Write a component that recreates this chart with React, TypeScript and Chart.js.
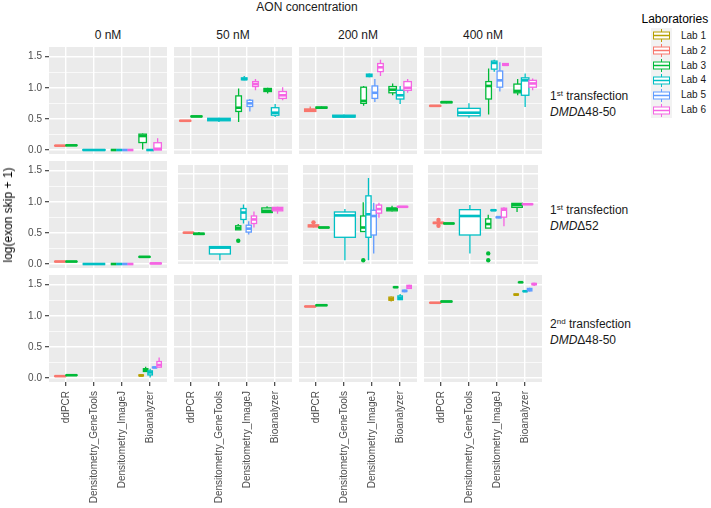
import React, { useEffect, useRef } from 'react';
import { Chart, registerables } from 'chart.js';

Chart.register(...registerables);

const FONT = '"Liberation Sans", Arial, Helvetica, sans-serif';

// ---------- data ----------
const categories = ['ddPCR', 'Densitometry_GeneTools', 'Densitometry_ImageJ', 'Bioanalyzer'];
const concentrations = ['0 nM', '50 nM', '200 nM', '400 nM'];
const labs = ['Lab 1', 'Lab 2', 'Lab 3', 'Lab 4', 'Lab 5', 'Lab 6'];
const labColors = ['#B79F00', '#F8766D', '#00BA38', '#00BFC4', '#619CFF', '#F564E3'];
const yMajorTicks = [0, 0.5, 1.0, 1.5];
const yMinorTicks = [0.25, 0.75, 1.25];
const rowNumbers = ['1', '1', '2'];
const rowSuffixes = ['st', 'st', 'nd'];
const rowDeletions = ['Δ48-50', 'Δ52', 'Δ48-50'];

// box: [category index, lab number, lower whisker, q1, median, q3, upper whisker]
type Box = [number, number, number, number, number, number, number];
// outlier: [category index, lab number, value]
type Out = [number, number, number];

const row1_0nM: Box[] = [
  [0, 2, 0.065, 0.068, 0.07, 0.072, 0.075],
  [0, 3, 0.07, 0.073, 0.075, 0.078, 0.08],
  [1, 4, 0, 0, 0, 0.003, 0.005],
  [2, 3, 0, 0, 0, 0, 0],
  [2, 4, 0, 0, 0, 0, 0],
  [2, 5, 0, 0, 0, 0, 0],
  [2, 6, 0, 0, 0, 0, 0],
  [3, 3, 0.01, 0.12, 0.225, 0.255, 0.265],
  [3, 4, 0, 0, 0, 0, 0],
  [3, 6, 0, 0, 0.02, 0.117, 0.19],
];
const row1_50nM: Box[] = [
  [0, 2, 0.46, 0.465, 0.47, 0.475, 0.48],
  [0, 3, 0.53, 0.535, 0.54, 0.545, 0.55],
  [1, 4, 0.45, 0.47, 0.49, 0.51, 0.52],
  [2, 3, 0.45, 0.62, 0.68, 0.87, 0.99],
  [2, 4, 1.12, 1.13, 1.14, 1.16, 1.19],
  [2, 5, 0.62, 0.7, 0.75, 0.8, 0.82],
  [2, 6, 0.96, 1.02, 1.06, 1.1, 1.14],
  [3, 3, 0.91, 0.94, 0.96, 0.99, 1.0],
  [3, 4, 0.53, 0.56, 0.6, 0.68, 0.74],
  [3, 6, 0.8, 0.83, 0.88, 0.94, 1.01],
];
const row1_200nM: Box[] = [
  [0, 2, 0.62, 0.62, 0.64, 0.66, 0.7],
  [0, 3, 0.67, 0.675, 0.68, 0.69, 0.7],
  [1, 4, 0.52, 0.53, 0.54, 0.56, 0.57],
  [2, 3, 0.71, 0.75, 0.79, 1.01, 1.03],
  [2, 4, 1.17, 1.18, 1.2, 1.22, 1.23],
  [2, 5, 0.77, 0.83, 0.92, 1.03, 1.14],
  [2, 6, 1.19, 1.26, 1.33, 1.39, 1.45],
  [3, 3, 0.88, 0.92, 0.97, 1.02, 1.07],
  [3, 4, 0.74, 0.82, 0.88, 0.96, 1.03],
  [3, 6, 0.92, 0.96, 1.0, 1.1, 1.14],
];
const row1_400nM: Box[] = [
  [0, 2, 0.7, 0.705, 0.71, 0.715, 0.72],
  [0, 3, 0.75, 0.76, 0.77, 0.775, 0.78],
  [1, 4, 0.52, 0.55, 0.6, 0.67, 0.75],
  [2, 3, 0.57, 0.82, 1.03, 1.1, 1.31],
  [2, 4, 1.26, 1.3, 1.4, 1.43, 1.45],
  [2, 5, 0.94, 1.01, 1.12, 1.27, 1.41],
  [2, 6, 1.35, 1.36, 1.37, 1.39, 1.4],
  [3, 3, 0.88, 0.92, 0.95, 1.06, 1.14],
  [3, 4, 0.69, 0.88, 1.12, 1.16, 1.23],
  [3, 6, 0.96, 1.01, 1.07, 1.12, 1.15],
];
const row2_0nM: Box[] = [
  [0, 2, 0.035, 0.037, 0.04, 0.042, 0.045],
  [0, 3, 0.035, 0.037, 0.04, 0.042, 0.045],
  [1, 4, 0, 0, 0, 0, 0],
  [2, 3, 0, 0, 0, 0, 0],
  [2, 4, 0, 0, 0, 0, 0],
  [2, 5, 0, 0, 0, 0, 0],
  [2, 6, 0, 0, 0, 0, 0],
  [3, 3, 0.1, 0.11, 0.115, 0.12, 0.13],
  [3, 6, 0, 0.005, 0.01, 0.015, 0.03],
];
const row2_50nM: Box[] = [
  [0, 2, 0.47, 0.475, 0.48, 0.485, 0.49],
  [0, 3, 0.44, 0.45, 0.46, 0.47, 0.49],
  [1, 4, 0.0, 0.11, 0.22, 0.24, 0.25],
  [2, 3, 0.53, 0.53, 0.56, 0.6, 0.63],
  [2, 4, 0.64, 0.71, 0.83, 0.9, 0.97],
  [2, 5, 0.45, 0.49, 0.55, 0.61, 0.68],
  [2, 6, 0.57, 0.64, 0.71, 0.77, 0.85],
  [3, 3, 0.83, 0.83, 0.86, 0.91, 0.94],
  [3, 6, 0.81, 0.86, 0.89, 0.92, 0.93],
];
const row2_200nM: Box[] = [
  [0, 2, 0.57, 0.58, 0.6, 0.615, 0.62],
  [0, 3, 0.56, 0.565, 0.57, 0.575, 0.58],
  [1, 4, 0.0, 0.4, 0.78, 0.84, 0.89],
  [2, 3, 0.5, 0.5, 0.57, 0.77, 1.01],
  [2, 4, 0.0, 0.4, 0.8, 1.12, 1.43],
  [2, 5, 0.12, 0.44, 0.77, 0.87, 1.0],
  [2, 6, 0.74, 0.82, 0.89, 0.96, 1.0],
  [3, 3, 0.85, 0.86, 0.89, 0.91, 0.95],
  [3, 6, 0.92, 0.925, 0.93, 0.935, 0.94],
];
const row2_400nM: Box[] = [
  [0, 2, 0.63, 0.64, 0.65, 0.66, 0.67],
  [0, 3, 0.63, 0.635, 0.64, 0.645, 0.65],
  [1, 4, 0.12, 0.44, 0.77, 0.88, 0.96],
  [2, 3, 0.56, 0.56, 0.63, 0.72, 0.79],
  [2, 4, 0.86, 0.865, 0.87, 0.875, 0.88],
  [2, 5, 0.73, 0.74, 0.75, 0.755, 0.76],
  [2, 6, 0.59, 0.75, 0.88, 0.905, 0.92],
  [3, 3, 0.84, 0.92, 0.96, 0.99, 0.99],
  [3, 6, 0.965, 0.97, 0.975, 0.98, 0.985],
];
const row3_0nM: Box[] = [
  [0, 2, 0.025, 0.028, 0.03, 0.032, 0.035],
  [0, 3, 0.04, 0.043, 0.045, 0.048, 0.05],
  [3, 1, 0.03, 0.035, 0.04, 0.05, 0.06],
  [3, 3, 0.1, 0.105, 0.13, 0.15, 0.18],
  [3, 4, 0.01, 0.05, 0.09, 0.115, 0.15],
  [3, 5, 0.16, 0.165, 0.17, 0.175, 0.18],
  [3, 6, 0.17, 0.175, 0.21, 0.265, 0.33],
];
const row3_50nM: Box[] = [];
const row3_200nM: Box[] = [
  [0, 2, 1.145, 1.148, 1.15, 1.152, 1.155],
  [0, 3, 1.16, 1.165, 1.17, 1.175, 1.18],
  [3, 1, 1.23, 1.25, 1.27, 1.3, 1.31],
  [3, 3, 1.45, 1.455, 1.46, 1.465, 1.47],
  [3, 4, 1.26, 1.26, 1.29, 1.32, 1.35],
  [3, 5, 1.38, 1.39, 1.4, 1.41, 1.42],
  [3, 6, 1.43, 1.44, 1.47, 1.49, 1.5],
];
const row3_400nM: Box[] = [
  [0, 2, 1.205, 1.208, 1.21, 1.212, 1.215],
  [0, 3, 1.22, 1.225, 1.23, 1.235, 1.24],
  [3, 1, 1.33, 1.335, 1.34, 1.35, 1.355],
  [3, 3, 1.53, 1.535, 1.54, 1.54, 1.545],
  [3, 4, 1.385, 1.39, 1.395, 1.4, 1.41],
  [3, 5, 1.39, 1.4, 1.42, 1.44, 1.45],
  [3, 6, 1.48, 1.5, 1.51, 1.52, 1.53],
];

const row2_50nM_out: Out[] = [[2, 3, 0.34]];
const row2_200nM_out: Out[] = [[0, 2, 0.66], [2, 3, 0.0]];
const row2_400nM_out: Out[] = [[0, 2, 0.7], [0, 2, 0.6], [2, 3, 0.12], [2, 3, 0.0]];

const panelBoxes: Box[][][] = [
  [row1_0nM, row1_50nM, row1_200nM, row1_400nM],
  [row2_0nM, row2_50nM, row2_200nM, row2_400nM],
  [row3_0nM, row3_50nM, row3_200nM, row3_400nM],
];
const panelOutliers: Out[][][] = [
  [[], [], [], []],
  [[], row2_50nM_out, row2_200nM_out, row2_400nM_out],
  [[], [], [], []],
];

// ---------- layout ----------
const PLOT_W = 118;
const PLOT_H = 107;
const COL_LEFT = [49, 174, 299, 424];
const ROW_TOP = [47, 161, 275];
const Y_AXIS_W = 49;
const X_AXIS_H = 508 - 275 - PLOT_H;
const Y_MIN = -0.064;
const Y_MAX = 1.656;

function dodge(boxes: Box[]) {
  const byCat: Record<number, number[]> = {};
  boxes.forEach((b) => {
    (byCat[b[0]] = byCat[b[0]] || []).push(b[1]);
  });
  Object.values(byCat).forEach((a) => a.sort((p, q) => p - q));
  return (cat: number, lab: number) => {
    const present = byCat[cat] || [lab];
    const n = present.length;
    const i = Math.max(0, present.indexOf(lab));
    const w = 0.8 / n;
    return { x: cat + 1 - 0.4 + w * (i + 0.5), hw: w / 2 };
  };
}

const bgPlugin = {
  id: 'panelBg',
  beforeDraw(chart: any) {
    const { ctx, chartArea: a } = chart;
    ctx.save();
    ctx.fillStyle = '#EBEBEB';
    ctx.fillRect(a.left, a.top, a.right - a.left, a.bottom - a.top);
    ctx.restore();
  },
};

const boxPlugin = {
  id: 'boxplots',
  afterDatasetsDraw(chart: any) {
    const { ctx } = chart;
    const xs = chart.scales.x;
    const ys = chart.scales.y;
    ctx.save();
    chart.data.datasets.forEach((ds: any) => {
      if (!ds.isBox) return;
      ds.data.forEach((d: any) => {
        const xc = xs.getPixelForValue(d.x);
        const xl = xs.getPixelForValue(d.x - d.hw);
        const xr = xs.getPixelForValue(d.x + d.hw);
        const pLo = ys.getPixelForValue(d.lo);
        const pQ1 = ys.getPixelForValue(d.q1);
        const pMed = ys.getPixelForValue(d.y);
        const pQ3 = ys.getPixelForValue(d.q3);
        const pHi = ys.getPixelForValue(d.hi);
        ctx.strokeStyle = ds.boxColor;
        ctx.lineWidth = 1.3;
        ctx.beginPath();
        ctx.moveTo(xc, pHi);
        ctx.lineTo(xc, pQ3);
        ctx.moveTo(xc, pQ1);
        ctx.lineTo(xc, pLo);
        ctx.stroke();
        ctx.fillStyle = '#FFFFFF';
        ctx.fillRect(xl, pQ3, xr - xl, pQ1 - pQ3);
        ctx.strokeRect(xl, pQ3, xr - xl, pQ1 - pQ3);
        ctx.lineWidth = 2.6;
        ctx.beginPath();
        ctx.moveTo(xl, pMed);
        ctx.lineTo(xr, pMed);
        ctx.stroke();
      });
    });
    ctx.restore();
  },
};

function Panel(props: { boxes: Box[]; outs: Out[]; left: number; top: number; showY: boolean; showX: boolean }) {
  const { boxes, outs, left, top, showY, showX } = props;
  const ref = useRef<HTMLCanvasElement>(null);
  const w = PLOT_W + (showY ? Y_AXIS_W : 0);
  const h = PLOT_H + (showX ? X_AXIS_H : 0);

  useEffect(() => {
    const pos = dodge(boxes);
    const boxSets = labs.map((lab, li) => ({
      label: lab,
      isBox: true,
      boxColor: labColors[li],
      pointRadius: 0,
      pointHoverRadius: 0,
      data: boxes
        .filter((b) => b[1] === li + 1)
        .map((b) => {
          const p = pos(b[0], b[1]);
          return { x: p.x, hw: p.hw, y: b[4], lo: b[2], q1: b[3], q3: b[5], hi: b[6] };
        }),
    }));
    const outSets = labs.map((lab, li) => ({
      label: lab + ' outliers',
      pointRadius: 2.2,
      pointBorderWidth: 0,
      pointBackgroundColor: labColors[li],
      pointBorderColor: labColors[li],
      data: outs
        .filter((o) => o[1] === li + 1)
        .map((o) => ({ x: pos(o[0], o[1]).x, y: o[2] })),
    }));
    const isMajorY = (v: number) => yMajorTicks.some((m) => Math.abs(m - v) < 1e-9);
    const chart = new Chart(ref.current as HTMLCanvasElement, {
      type: 'scatter',
      data: { datasets: [...outSets, ...boxSets] as any },
      options: {
        animation: false,
        responsive: false,
        devicePixelRatio: 1,
        events: [],
        layout: { padding: 0 },
        plugins: { legend: { display: false }, tooltip: { enabled: false } },
        scales: {
          x: {
            type: 'linear',
            min: 0.4,
            max: 4.6,
            afterBuildTicks: (s: any) => {
              s.ticks = categories.map((_, i) => ({ value: i + 1 }));
            },
            afterFit: (s: any) => {
              s.height = showX ? X_AXIS_H : 0;
              s.paddingLeft = 0;
              s.paddingRight = 0;
              s.paddingTop = 0;
              s.paddingBottom = 0;
            },
            border: { display: false },
            grid: {
              color: '#FFFFFF',
              lineWidth: 1.4,
              drawTicks: showX,
              tickLength: 4,
              tickColor: '#333333',
              tickWidth: 1.1,
            },
            ticks: {
              display: showX,
              autoSkip: false,
              minRotation: 90,
              maxRotation: 90,
              padding: 5,
              color: '#4D4D4D',
              font: { family: FONT, size: 10 },
              callback: (v: any) => categories[Math.round(Number(v)) - 1],
            },
          },
          y: {
            type: 'linear',
            min: Y_MIN,
            max: Y_MAX,
            afterBuildTicks: (s: any) => {
              s.ticks = [...yMajorTicks, ...yMinorTicks].sort((a, b) => a - b).map((v) => ({ value: v }));
            },
            afterFit: (s: any) => {
              s.width = showY ? Y_AXIS_W : 0;
              s.paddingLeft = 0;
              s.paddingRight = 0;
              s.paddingTop = 0;
              s.paddingBottom = 0;
            },
            border: { display: false },
            grid: {
              color: '#FFFFFF',
              lineWidth: (c: any) => (c.tick && isMajorY(c.tick.value) ? 1.4 : 0.7),
              drawTicks: showY,
              tickLength: 4,
              tickColor: (c: any) => (c.tick && isMajorY(c.tick.value) ? '#333333' : 'rgba(0,0,0,0)'),
              tickWidth: 1.1,
            },
            ticks: {
              display: showY,
              padding: 3,
              color: '#4D4D4D',
              font: { family: FONT, size: 10 },
              callback: (v: any) => (isMajorY(Number(v)) ? Number(v).toFixed(1) : ''),
            },
          },
        },
      } as any,
      plugins: [bgPlugin, boxPlugin],
    });
    return () => chart.destroy();
  }, []);

  return (
    <canvas
      ref={ref}
      width={w}
      height={h}
      style={{ position: 'absolute', left: showY ? left - Y_AXIS_W : left, top, width: w, height: h }}
    />
  );
}

function Txt(props: { x: number; y: number; children: any; size?: number; color?: string; center?: boolean; style?: any }) {
  const { x, y, children, size = 12, color = '#1A1A1A', center = false, style = {} } = props;
  return (
    <div
      style={{
        position: 'absolute',
        left: x,
        top: y,
        transform: center ? 'translate(-50%, -50%)' : 'translate(0, -50%)',
        whiteSpace: 'nowrap',
        fontFamily: FONT,
        fontSize: size,
        lineHeight: '14px',
        color,
        ...style,
      }}
    >
      {children}
    </div>
  );
}

export default function App() {
  const rowCenters = ROW_TOP.map((t) => t + PLOT_H / 2);
  return (
    <div style={{ position: 'fixed', left: 0, top: 0, width: 711, height: 508, background: '#FFFFFF', overflow: 'hidden' }}>
      <Txt x={307} y={7} center color="#1A1A1A">AON concentration</Txt>
      {concentrations.map((c, ci) => (
        <Txt key={c} x={COL_LEFT[ci] + PLOT_W / 2} y={35} center>
          {c}
        </Txt>
      ))}
      {panelBoxes.map((row, ri) =>
        row.map((boxes, ci) => (
          <Panel
            key={ri + '-' + ci}
            boxes={boxes}
            outs={panelOutliers[ri][ci]}
            left={COL_LEFT[ci]}
            top={ROW_TOP[ri]}
            showY={ci === 0}
            showX={ri === 2}
          />
        ))
      )}
      {rowCenters.map((cy, ri) => (
        <React.Fragment key={'rl' + ri}>
          <Txt x={550} y={cy - 4}>
            {rowNumbers[ri]}
            <span style={{ fontSize: 8, position: 'relative', top: -4 }}>{rowSuffixes[ri]}</span> transfection
          </Txt>
          <Txt x={550} y={cy + 11}>
            <i>DMD</i>
            {rowDeletions[ri]}
          </Txt>
        </React.Fragment>
      ))}
      <div
        style={{
          position: 'absolute',
          left: 8,
          top: 215,
          transform: 'translate(-50%, -50%) rotate(-90deg)',
          whiteSpace: 'nowrap',
          fontFamily: FONT,
          fontSize: 12,
          color: '#000000',
        }}
      >
        log(exon skip + 1)
      </div>
      <Txt x={641.5} y={19} color="#000000">Laboratories</Txt>
      {labs.map((l, i) => {
        const cy = 35.7 + 14.9 * i;
        const c = labColors[i];
        return (
          <React.Fragment key={l}>
            <svg width={21} height={15} style={{ position: 'absolute', left: 651, top: cy - 7.5 }}>
              <rect x={0} y={0} width={21} height={15} fill="#F2F2F2" />
              <line x1={10.5} y1={1} x2={10.5} y2={4} stroke={c} strokeWidth={1} />
              <rect x={2.5} y={4} width={16} height={7} fill="#FFFFFF" stroke={c} strokeWidth={1} />
              <line x1={2.5} y1={7.5} x2={18.5} y2={7.5} stroke={c} strokeWidth={1.5} />
              <line x1={10.5} y1={11} x2={10.5} y2={14} stroke={c} strokeWidth={1} />
            </svg>
            <Txt x={681} y={cy} size={10}>
              {l}
            </Txt>
          </React.Fragment>
        );
      })}
    </div>
  );
}
